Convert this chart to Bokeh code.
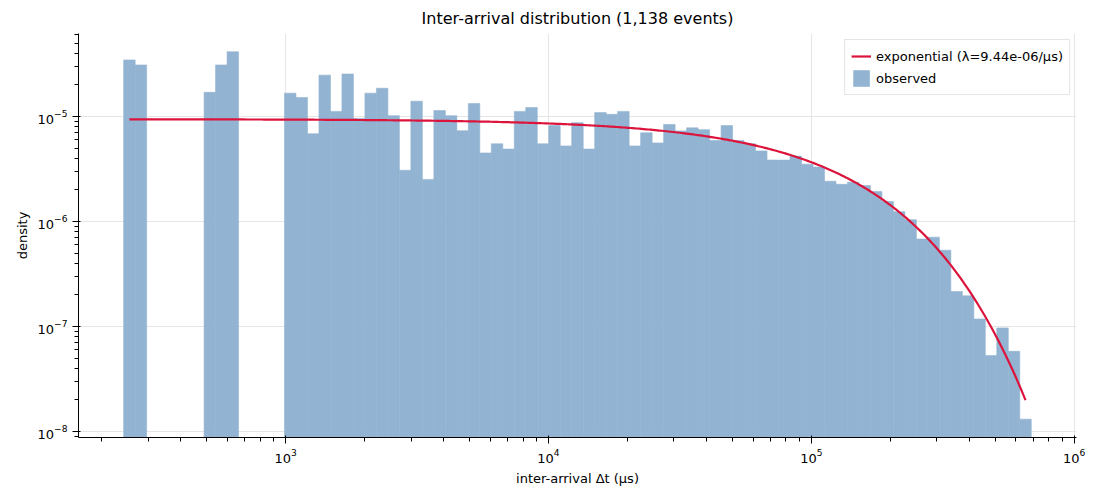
import numpy as np
from bokeh.plotting import figure
from bokeh.models import Range1d, Legend, LegendItem, ColumnDataSource
from bokeh.embed import file_html
from bokeh.resources import INLINE

# log10 of first/last bin edge and number of bins
log_lo, log_hi, n_bins = 2.384, 5.8365, 79
density = [3.46e-5, 3.1e-5, 0, 0, 0, 0, 0, 1.70e-5, 3.1e-5, 4.14e-5,
           0, 0, 0, 0, 1.67e-5, 1.52e-5, 6.86e-6, 2.48e-5, 1.12e-5, 2.54e-5,
           9.6e-6, 1.67e-5, 1.86e-5, 1.02e-5, 3.08e-6, 1.40e-5, 2.52e-6, 1.14e-5, 1.02e-5, 7.33e-6,
           1.33e-5, 4.5e-6, 5.5e-6, 4.9e-6, 1.12e-5, 1.22e-5, 5.5e-6, 8.2e-6, 5.25e-6, 8.75e-6,
           4.9e-6, 1.09e-5, 1.05e-5, 1.12e-5, 5.25e-6, 7.0e-6, 5.6e-6, 8.4e-6, 7.3e-6, 7.8e-6,
           7.5e-6, 5.9e-6, 8.2e-6, 5.9e-6, 5.5e-6, 4.7e-6, 3.85e-6, 3.85e-6, 4.2e-6, 3.52e-6,
           3.3e-6, 2.42e-6, 2.26e-6, 2.37e-6, 2.2e-6, 1.93e-6, 1.55e-6, 1.24e-6, 1.04e-6, 6.8e-7,
           7.1e-7, 5.33e-7, 2.15e-7, 1.96e-7, 1.18e-7, 5.3e-8, 9.7e-8, 5.8e-8, 1.31e-8]
lam = 9.44e-6

edges = np.logspace(log_lo, log_hi, n_bins + 1)
d = np.array(density)
mask = d > 0
src = ColumnDataSource(dict(left=edges[:-1][mask], right=edges[1:][mask], top=d[mask],
                            bottom=np.full(mask.sum(), 1e-10)))
centers = np.sqrt(edges[:-1] * edges[1:])
t = np.logspace(np.log10(centers[0]), np.log10(centers[-1]), 400)
pdf = lam * np.exp(-lam * t)

p = figure(width=1090, height=488, x_axis_type="log", y_axis_type="log",
           output_backend="svg", toolbar_location=None,
           x_range=Range1d(163, 1.02e6), y_range=Range1d(8.77e-9, 6.18e-5),
           title="Inter-arrival distribution (1,138 events)")
p.title.align = "center"
p.title.text_font = "DejaVu Sans"
p.title.text_font_size = "16px"
p.title.text_font_style = "normal"
p.title.text_color = "black"
p.title.standoff = 12
bars = p.quad(left="left", right="right", top="top", bottom="bottom", source=src,
              fill_color="#92b3d1", line_color="#92b3d1", line_width=0.6)
ln = p.line(t, pdf, line_color="#dc143c", line_width=2.2)

p.xaxis.axis_label = "inter-arrival Δt (μs)"
p.yaxis.axis_label = "density"
for ax in (p.xaxis, p.yaxis):
    ax.axis_label_text_font = "DejaVu Sans"
    ax.axis_label_text_font_style = "normal"
    ax.axis_label_text_font_size = "13px"
    ax.axis_label_text_color = "black"
    ax.major_label_text_font = "DejaVu Sans"
    ax.major_label_text_font_size = "13px"
    ax.major_label_text_color = "black"
    ax.axis_line_color = "black"
    ax.major_tick_line_color = "black"
    ax.minor_tick_line_color = "black"
p.xgrid.grid_line_color = "#e5e5e5"
p.ygrid.grid_line_color = "#e5e5e5"
p.outline_line_color = None
p.min_border_left = 78
p.min_border_right = 14

leg = Legend(items=[LegendItem(label="exponential (λ=9.44e-06/μs)", renderers=[ln]),
                    LegendItem(label="observed", renderers=[bars])],
             location="top_right", label_text_font="DejaVu Sans", label_text_font_size="13px",
             label_text_color="black",
             border_line_color="#cccccc", spacing=2, padding=6, margin=6)
p.add_layout(leg)

open("out.html", "w").write(file_html(p, INLINE))
